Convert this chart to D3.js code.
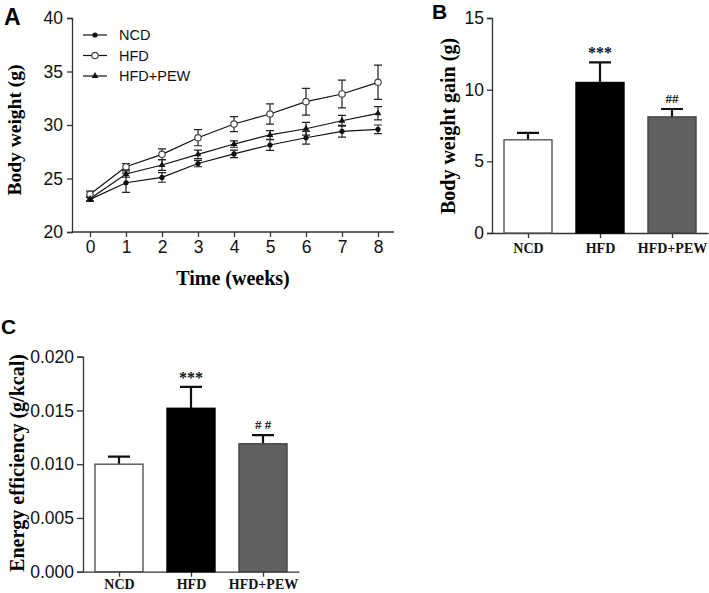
<!DOCTYPE html>
<html><head><meta charset="utf-8">
<script src="https://cdn.jsdelivr.net/npm/d3@7"></script>
<style>
body{margin:0;background:#fff;}
svg{display:block;}
.tick text{font-family:"Liberation Sans",Arial,sans-serif;}
</style></head>
<body>
<svg id="chart" width="709" height="593"></svg>
<script>
// ---- Data ----
const weeks = [0,1,2,3,4,5,6,7,8];
const groups = ["NCD","HFD","HFD+PEW"];
const ncdWeight = [23.05,24.6,25.1,26.4,27.3,28.13,28.81,29.41,29.6];
const ncdErr    = [0.2,0.9,0.45,0.3,0.35,0.5,0.6,0.55,0.4];
const hfdWeight = [23.52,26.1,27.26,28.81,30.09,31.03,32.18,32.9,33.99];
const hfdErr    = [0.3,0.3,0.5,0.75,0.7,0.95,1.25,1.3,1.6];
const pewWeight = [23.1,25.42,26.26,27.26,28.22,29.07,29.65,30.4,31.09];
const pewErr    = [0.2,0.3,0.5,0.4,0.3,0.4,0.6,0.5,0.62];
const gainMean  = [6.5,10.5,8.1];
const gainErr   = [0.48,1.4,0.55];
const effMean   = [0.0100,0.0152,0.0119];
const effErr    = [0.0007,0.0020,0.0008];
const sigB      = ["","***","##"];
const sigC      = ["","***","# #"];
const ticksA    = [20,25,30,35,40];
const ticksB    = [0,5,10,15];
const ticksC    = [0,0.005,0.010,0.015,0.020];
const barFill   = ["#ffffff","#000000","#606060"];
const barStroke = ["#555555","#000000","#444444"];

const svg = d3.select("#chart");
const axisColor = "#333";
const serif = "'Liberation Serif','Times New Roman',serif";
const sans = "'Liberation Sans',Arial,sans-serif";

function styleAxis(g, fs){
  g.select(".domain").attr("stroke",axisColor).attr("stroke-width",1.3);
  g.selectAll(".tick line").attr("stroke",axisColor).attr("stroke-width",1.3);
  g.selectAll(".tick text").attr("fill","#111").style("font-size",fs+"px").style("font-family",sans);
}

// ---------- Panel A ----------
const xA = d3.scaleLinear().domain([0,8]).range([90,378]);
const yA = d3.scaleLinear().domain([20,40]).range([232,18]);
const gA = svg.append("g");
const yAxA = gA.append("g").attr("transform","translate(72,0)")
  .call(d3.axisLeft(yA).tickValues(ticksA).tickSize(5).tickPadding(4));
styleAxis(yAxA,17.5);
const xAxA = gA.append("g").attr("transform","translate(0,232)")
  .call(d3.axisBottom(xA).tickValues(weeks).tickSize(5).tickPadding(4).tickSizeOuter(0));
xAxA.select(".domain").attr("d","M72,0H394");
styleAxis(xAxA,17.5);

const seriesA = [
  {name:groups[0], vals:ncdWeight, err:ncdErr, marker:"dot"},
  {name:groups[1], vals:hfdWeight, err:hfdErr, marker:"open"},
  {name:groups[2], vals:pewWeight, err:pewErr, marker:"tri"}
];
const line = d3.line().x((d,i)=>xA(weeks[i])).y(d=>yA(d));
function drawMarker(g, x, y, type){
  if(type==="dot") g.append("circle").attr("cx",x).attr("cy",y).attr("r",2.6).attr("fill","#111");
  else if(type==="open") g.append("circle").attr("cx",x).attr("cy",y).attr("r",3.2).attr("fill","#fff").attr("stroke","#444").attr("stroke-width",1.2);
  else g.append("path").attr("d",d3.symbol(d3.symbolTriangle,20)()).attr("transform",`translate(${x},${y})`).attr("fill","#111");
}
seriesA.forEach(s=>{
  gA.append("path").datum(s.vals).attr("d",line).attr("fill","none").attr("stroke","#111").attr("stroke-width",1.2);
  s.vals.forEach((v,i)=>{
    const x = xA(weeks[i]), y1=yA(v+s.err[i]), y2=yA(v-s.err[i]);
    gA.append("path").attr("d",`M${x},${y1}V${y2}M${x-4},${y1}H${x+4}M${x-4},${y2}H${x+4}`)
      .attr("stroke","#222").attr("stroke-width",1.2).attr("fill","none");
  });
});
seriesA.forEach(s=>{ s.vals.forEach((v,i)=>drawMarker(gA,xA(weeks[i]),yA(v),s.marker)); });

// legend
seriesA.forEach((s,i)=>{
  const y = 35 + i*20.5;
  gA.append("line").attr("x1",83).attr("x2",107).attr("y1",y).attr("y2",y).attr("stroke","#111").attr("stroke-width",1.2);
  drawMarker(gA,95,y,s.marker);
  gA.append("text").attr("x",119).attr("y",y+5).text(s.name)
    .style("font-family",sans).style("font-size","14.5px").attr("fill","#111");
});
gA.append("text").attr("transform","translate(21,130) rotate(-90)").attr("text-anchor","middle")
  .text("Body weight (g)").style("font-family",serif).style("font-weight","bold").style("font-size","19.5px");
gA.append("text").attr("x",233).attr("y",285).attr("text-anchor","middle")
  .text("Time (weeks)").style("font-family",serif).style("font-weight","bold").style("font-size","20px");
svg.append("text").attr("x",4).attr("y",25).text("A")
  .style("font-family",sans).style("font-weight","bold").style("font-size","23px");

// ---------- bar panel helper ----------
function barPanel(opt){
  const g = svg.append("g");
  const x = d3.scalePoint().domain(groups).range([opt.x0,opt.x1]).padding(0.5);
  const y = d3.scaleLinear().domain(opt.domain).range([opt.yb,opt.yt]);
  const ya = g.append("g").attr("transform",`translate(${opt.x0},0)`)
    .call(d3.axisLeft(y).tickValues(opt.ticks).tickSize(opt.tick).tickPadding(3).tickFormat(opt.fmt));
  styleAxis(ya,17.5);
  const xa = g.append("g").attr("transform",`translate(0,${opt.yb})`)
    .call(d3.axisBottom(x).tickSize(5).tickPadding(opt.xpad).tickSizeOuter(0));
  styleAxis(xa,14);
  xa.selectAll(".tick text").style("font-family",serif).style("font-weight","bold").style("font-size","14px").attr("fill","#111");
  const bw = 48;
  groups.forEach((c,i)=>{
    const cx = x(c);
    const top = y(opt.mean[i]), et = y(opt.mean[i]+opt.err[i]);
    g.append("path").attr("d",`M${cx},${top}V${et}M${cx-11},${et}H${cx+11}`)
      .attr("stroke","#111").attr("stroke-width",2.2).attr("fill","none");
    g.append("rect").attr("x",cx-bw/2).attr("y",top).attr("width",bw).attr("height",opt.yb-top)
      .attr("fill",barFill[i]).attr("stroke",barStroke[i]).attr("stroke-width",1.4);
    if(opt.sig[i]){
      const star = opt.sig[i].includes("*");
      g.append("text").attr("x",cx).attr("y",et - (star?4:6)).attr("text-anchor","middle")
        .text(opt.sig[i]).style("font-family",serif).style("font-weight","bold")
        .style("font-size",star?"16px":"13px").attr("fill","#111");
    }
  });
  g.append("text").attr("transform",`translate(${opt.lx},${opt.ly}) rotate(-90)`).attr("text-anchor","middle")
    .text(opt.label).style("font-family",serif).style("font-weight","bold").style("font-size","20px");
}

barPanel({x0:492,x1:708,yb:233,yt:18,domain:[0,15],ticks:ticksB,tick:5,fmt:d3.format("d"),xpad:5,
  mean:gainMean,err:gainErr,sig:sigB,label:"Body weight gain (g)",lx:455,ly:126});
svg.append("text").attr("x",432).attr("y",19).text("B")
  .style("font-family",sans).style("font-weight","bold").style("font-size","21px");

barPanel({x0:83,x1:299,yb:571.7,yt:356.7,domain:[0,0.02],ticks:ticksC,tick:6,fmt:d3.format(".3f"),xpad:2,
  mean:effMean,err:effErr,sig:sigC,label:"Energy efficiency (g/kcal)",lx:24,ly:463});
svg.append("text").attr("x",1).attr("y",334).text("C")
  .style("font-family",sans).style("font-weight","bold").style("font-size","21px");
</script>
</body></html>
